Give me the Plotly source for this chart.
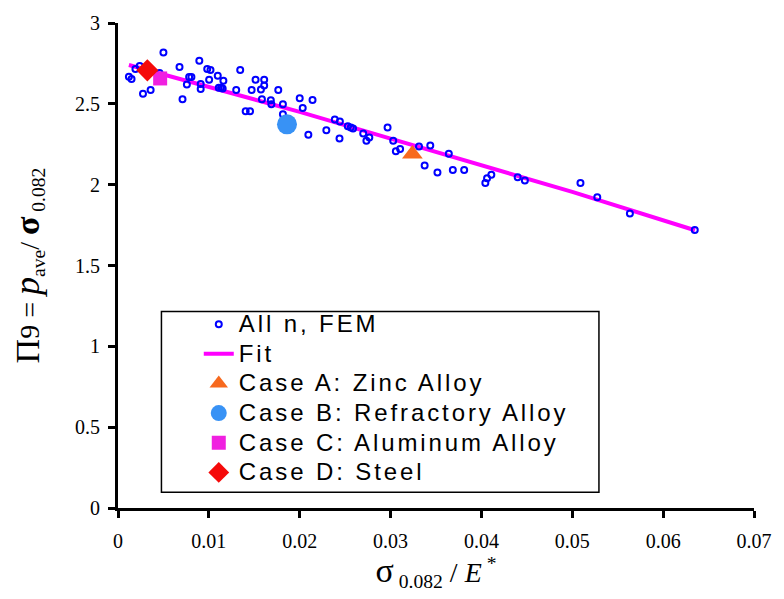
import plotly.graph_objects as go

# FEM results for all strain-hardening exponents n
fem_x = [0.00120, 0.00149, 0.00192, 0.00239, 0.00500, 0.00275, 0.00359, 0.00457,
         0.00677, 0.00710, 0.00758, 0.00783, 0.00808, 0.00895, 0.00910, 0.00910,
         0.00982, 0.01018, 0.01003, 0.01098, 0.01109, 0.01134, 0.01152, 0.01160,
         0.01301, 0.01345, 0.01405, 0.01453, 0.01471, 0.01514, 0.01573, 0.01584,
         0.01609, 0.01609, 0.01682, 0.01688, 0.01764, 0.01815, 0.01815, 0.02000,
         0.02033, 0.02095, 0.02141, 0.02293, 0.02386, 0.02442, 0.02438, 0.02529,
         0.02562, 0.02587, 0.02699, 0.02734, 0.02766, 0.02967, 0.03029, 0.03058,
         0.03105, 0.03313, 0.03375, 0.03437, 0.03516, 0.03641, 0.03685, 0.03810,
         0.04043, 0.04062, 0.04109, 0.04399, 0.04478, 0.05090, 0.05275, 0.05634,
         0.06348]
fem_y = [2.668, 2.653, 2.716, 2.734, 2.817, 2.563, 2.585, 2.690,
         2.728, 2.528, 2.619, 2.666, 2.666, 2.766, 2.623, 2.591,
         2.716, 2.710, 2.649, 2.673, 2.599, 2.599, 2.595, 2.643,
         2.585, 2.710, 2.454, 2.454, 2.585, 2.649, 2.589, 2.528,
         2.649, 2.613, 2.522, 2.498, 2.585, 2.498, 2.436, 2.534,
         2.474, 2.308, 2.524, 2.337, 2.403, 2.391, 2.286, 2.361,
         2.353, 2.347, 2.317, 2.271, 2.292, 2.353, 2.272, 2.206,
         2.220, 2.236, 2.119, 2.243, 2.075, 2.191, 2.090, 2.090,
         2.010, 2.040, 2.061, 2.046, 2.026, 2.010, 1.922, 1.821,
         1.720]

# Fitted curve
fit_x = [0.0012, 0.010, 0.020, 0.030, 0.040, 0.050, 0.0635]
fit_y = [2.740, 2.605, 2.450, 2.285, 2.120, 1.955, 1.718]

# Material cases
case_a = (0.0324, 2.19)   # Zinc Alloy
case_b = (0.0186, 2.373)  # Refractory Alloy
case_c = (0.00464, 2.657) # Aluminum Alloy
case_d = (0.00323, 2.707) # Steel

x_ticks = [0, 0.01, 0.02, 0.03, 0.04, 0.05, 0.06, 0.07]
y_ticks = [0, 0.5, 1, 1.5, 2, 2.5, 3]


def lg(name):
    return ("<span style='font-size:24px;letter-spacing:2.9px'>" + name + "</span>")


fig = go.Figure()

fig.add_trace(go.Scatter(
    x=fit_x, y=fit_y, mode="lines", name=lg("Fit"), legendrank=2,
    line=dict(color="#FF00FF", width=4)))

fig.add_trace(go.Scatter(
    x=fem_x, y=fem_y, mode="markers", name=lg("All n, FEM"), legendrank=1,
    marker=dict(symbol="circle-open", size=6, color="#0000FF",
                line=dict(width=2, color="#0000FF"))))

fig.add_trace(go.Scatter(
    x=[case_a[0]], y=[case_a[1]], mode="markers", name=lg("Case A: Zinc Alloy"),
    legendrank=3,
    marker=dict(symbol="triangle-up", size=18, color="#F7691E")))

fig.add_trace(go.Scatter(
    x=[case_b[0]], y=[case_b[1]], mode="markers",
    name=lg("Case B: Refractory Alloy"), legendrank=4,
    marker=dict(symbol="circle", size=20, color="#3892F5")))

fig.add_trace(go.Scatter(
    x=[case_c[0]], y=[case_c[1]], mode="markers",
    name=lg("Case C: Aluminum Alloy"), legendrank=5,
    marker=dict(symbol="square", size=14, color="#F020E0")))

fig.add_trace(go.Scatter(
    x=[case_d[0]], y=[case_d[1]], mode="markers", name=lg("Case D: Steel"),
    legendrank=6,
    marker=dict(symbol="diamond", size=17, color="#F50A0A")))

serif = "Times New Roman"

fig.update_layout(
    width=784, height=599,
    margin=dict(l=118, r=22, t=12, b=91),
    plot_bgcolor="white", paper_bgcolor="white",
    font=dict(family=serif, color="black"),
    showlegend=True,
    legend=dict(
        x=0.127, y=0.42, xanchor="left", yanchor="top",
        bgcolor="rgba(0,0,0,0)", borderwidth=0,
        font=dict(family="Arial", size=20.5, color="black"),
        itemsizing="trace", tracegroupgap=0,
    ),
    shapes=[dict(type="rect", xref="paper", yref="paper",
                 x0=0.0683, x1=0.7562, y0=0.0323, y1=0.4052,
                 line=dict(color="black", width=1.5), fillcolor="rgba(0,0,0,0)",
                 layer="below")],
)

fig.update_xaxes(
    range=[0, 0.07], tickvals=x_ticks,
    ticktext=[("%g" % v) for v in x_ticks],
    showgrid=False, zeroline=False,
    showline=True, linecolor="black", linewidth=3,
    ticks="outside", ticklen=7, tickwidth=3, tickcolor="black",
    ticklabelstandoff=6,
    tickfont=dict(family=serif, size=20, color="black"),
    title=dict(
        text="<span style='font-size:34px'>σ</span><sub> 0.082</sub> / <i>E</i><sup> *</sup>",
        font=dict(family=serif, size=28, color="black"), standoff=6),
)

fig.update_yaxes(
    range=[0, 3], tickvals=y_ticks,
    ticktext=[("%g" % v) for v in y_ticks],
    showgrid=False, zeroline=False,
    showline=True, linecolor="black", linewidth=3,
    ticks="outside", ticklen=7, tickwidth=3, tickcolor="black",
    ticklabelstandoff=4,
    tickfont=dict(family=serif, size=20, color="black"),
    title=dict(
        text="<span style='font-size:34px'>Π</span>9 = <i><span style='font-size:36px'>p</span></i><sub>ave</sub>/ <b><span style='font-size:34px'>σ</span></b><sub> 0.082</sub>",
        font=dict(family=serif, size=28, color="black"), standoff=28),
)

fig.write_html("out.html")
